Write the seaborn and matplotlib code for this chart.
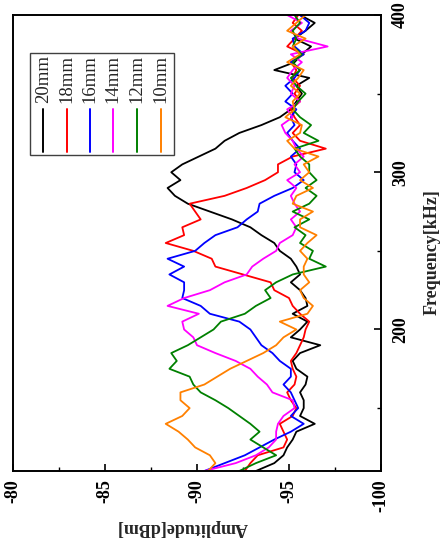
import numpy as np
import pandas as pd
import matplotlib
matplotlib.use("Agg")
import matplotlib.pyplot as plt
import seaborn as sns
from matplotlib.patches import Rectangle
from matplotlib.lines import Line2D
from matplotlib.ticker import MultipleLocator

# ---------------- data ----------------
freq_khz = list(range(110, 401, 5))

amp_20mm = [-93.2, -94.2, -94.7, -94.9, -95.2, -95.4, -96.4, -95.6, -95.8, -95.8,
            -95.6, -95.9, -96.0, -95.4, -95.2, -95.6, -96.7, -95.1, -95.6, -96.0,
            -95.2, -96.0, -95.9, -95.6, -95.1, -95.6, -95.4, -95.1, -94.5, -94.2,
            -93.5, -92.9, -91.9, -90.7, -89.5, -88.8, -88.4, -89.1, -88.6, -89.2,
            -90.1, -91.0, -91.5, -92.3, -93.5, -94.5, -95.1, -95.4, -95.7, -95.4,
            -96.1, -94.2, -95.3, -95.7, -96.2, -95.3, -95.9, -96.4, -95.6]

amp_18mm = [-92.6, -92.9, -93.3, -94.7, -94.9, -94.7, -94.5, -95.2, -95.4, -95.1,
            -94.9, -95.3, -95.4, -95.2, -95.1, -95.4, -95.6, -95.8, -95.9, -96.1,
            -95.6, -95.2, -95.0, -94.2, -94.0, -92.5, -91.0, -90.8, -89.8, -88.3,
            -89.3, -89.2, -90.2, -89.9, -89.6, -91.5, -92.7, -93.7, -94.4, -94.4,
            -95.2, -97.0, -95.6, -95.2, -95.6, -95.3, -95.1, -95.6, -95.3, -95.6,
            -95.2, -95.4, -95.1, -95.8, -94.9, -95.3, -95.7, -95.2, -95.5]

amp_16mm = [-90.4, -91.5, -92.6, -93.4, -94.2, -95.1, -95.8, -95.1, -95.5, -95.3,
            -95.1, -94.7, -95.1, -95.1, -94.5, -94.1, -93.5, -93.2, -92.9, -92.3,
            -90.7, -90.2, -89.2, -89.3, -89.3, -88.5, -89.3, -88.4, -89.9, -90.4,
            -91.0, -92.2, -92.7, -93.3, -93.4, -94.2, -95.2, -95.8, -95.3, -95.4,
            -95.1, -95.6, -95.2, -94.9, -95.3, -95.1, -95.4, -94.8, -95.2, -94.8,
            -95.3, -95.6, -95.1, -95.8, -95.3, -95.2, -95.9, -96.1, -95.6]

amp_14mm = [-90.4, -92.1, -93.2, -93.9, -94.3, -94.3, -94.4, -94.7, -95.3, -95.2,
            -94.1, -93.8, -93.3, -92.9, -92.1, -91.0, -90.0, -89.8, -89.3, -89.2,
            -90.1, -88.4, -89.3, -90.7, -91.5, -92.7, -93.0, -93.6, -94.3, -94.5,
            -95.2, -95.4, -95.1, -95.6, -95.3, -95.1, -95.4, -94.9, -95.6, -95.3,
            -95.8, -95.4, -95.2, -94.8, -94.6, -95.2, -94.9, -95.6, -95.1, -95.3,
            -94.9, -95.2, -95.7, -95.1, -97.1, -95.5, -95.1, -95.7, -94.9]

amp_12mm = [-92.3, -93.2, -94.3, -93.6, -92.9, -93.4, -92.9, -92.3, -91.7, -91.0,
            -90.2, -89.8, -89.6, -88.5, -88.9, -88.6, -89.5, -90.2, -90.9, -91.3,
            -92.6, -93.2, -94.0, -93.7, -94.3, -95.2, -97.0, -96.1, -96.3, -95.6,
            -95.9, -95.3, -96.1, -95.2, -96.1, -96.5, -95.9, -96.5, -96.1, -96.1,
            -95.6, -95.3, -96.6, -95.8, -96.2, -95.6, -95.2, -95.5, -95.9, -95.4,
            -95.1, -95.6, -95.2, -95.7, -95.2, -95.4, -95.2, -95.6, -95.3]

amp_10mm = [-90.6, -91.0, -90.7, -89.9, -89.5, -89.0, -88.3, -89.2, -89.6, -89.1,
            -89.1, -90.4, -91.1, -91.8, -92.7, -93.6, -94.3, -94.7, -95.4, -94.5,
            -96.0, -96.3, -95.8, -95.6, -96.1, -95.8, -95.8, -96.0, -95.6, -96.0,
            -96.5, -95.6, -95.6, -96.3, -95.2, -95.4, -96.3, -95.6, -96.1, -95.8,
            -96.6, -95.3, -94.9, -95.6, -95.7, -94.8, -95.3, -95.2, -95.6, -95.1,
            -95.5, -95.8, -94.9, -95.6, -95.2, -95.9, -94.9, -95.4, -95.9]

series_labels = ["20mm", "18mm", "16mm", "14mm", "12mm", "10mm"]
series_colors = ["#000000", "#ff0000", "#0000ff", "#ff00ff", "#008000", "#ff8000"]
series_values = [amp_20mm, amp_18mm, amp_16mm, amp_14mm, amp_12mm, amp_10mm]

amp_ticks = [-80, -85, -90, -95, -100]
freq_ticks = [200, 300, 400]

rows = []
for lab, vals in zip(series_labels, series_values):
    for f, a in zip(freq_khz, vals):
        rows.append({"freq": f, "amp": a, "gap": lab})
df = pd.DataFrame(rows)

# ---------------- style ----------------
sns.set_style("white")
plt.rcParams["font.family"] = ["Liberation Serif", "DejaVu Serif"]
plt.rcParams["axes.linewidth"] = 1.4

fig = plt.figure(figsize=(4.42, 5.44), dpi=100)
ax = fig.add_axes([0.02941, 0.1342, 0.8326, 0.8382])

sns.lineplot(data=df, x="amp", y="freq", hue="gap", hue_order=series_labels,
             palette=series_colors, orient="y", estimator=None, sort=True,
             linewidth=1.3, legend=False, ax=ax)

ax.set_xlim(-80, -100)
ax.set_ylim(110, 400)
ax.set_xticks(amp_ticks)
ax.set_xticklabels([str(t) for t in amp_ticks])
ax.xaxis.set_minor_locator(MultipleLocator(2.5))
ax.set_yticks(freq_ticks)
ax.set_yticklabels([str(t) for t in freq_ticks])
ax.yaxis.set_minor_locator(MultipleLocator(50))
ax.yaxis.tick_right()
ax.yaxis.set_label_position("right")

for sp in ax.spines.values():
    sp.set_color("black")
    sp.set_linewidth(1.4)

ax.tick_params(axis="x", which="both", direction="in", bottom=True, top=False,
               colors="black")
ax.tick_params(axis="y", which="both", direction="in", right=True, left=False,
               colors="black")
ax.tick_params(which="major", length=5, width=1.2)
ax.tick_params(which="minor", length=3, width=1.0)
ax.tick_params(axis="x", which="major", pad=6)
ax.tick_params(axis="y", which="major", pad=8)

for lbl in ax.get_xticklabels():
    lbl.set_rotation(90)
    lbl.set_fontsize(13)
    lbl.set_fontweight("bold")
    lbl.set_ha("center")
    lbl.set_va("top")
for lbl in ax.get_yticklabels():
    lbl.set_rotation(90)
    lbl.set_fontsize(13)
    lbl.set_fontweight("bold")
    lbl.set_va("center")
    lbl.set_ha("left")

ax.set_xlabel("Amplitude[dBm]", fontsize=13, fontweight="bold", rotation=180,
              ha="center", va="center")
ax.xaxis.set_label_coords(0.46, -0.125)
ax.set_ylabel("Frequency[kHz]", fontsize=13, fontweight="bold", rotation=90,
              ha="center", va="center")
ax.yaxis.set_label_coords(1.139, 0.48)

# ---------------- rotated legend ----------------
ax.add_patch(Rectangle((0.0462, 0.693), 0.3913, 0.2237, transform=ax.transAxes,
                       facecolor="white", edgecolor="#404040", linewidth=1.0,
                       zorder=5))
leg_x = [0.0823, 0.146, 0.2092, 0.2726, 0.3361, 0.4014]
for xx, lab, col in zip(leg_x, series_labels, series_colors):
    ax.add_line(Line2D([xx, xx], [0.699, 0.794], transform=ax.transAxes,
                       color=col, linewidth=1.4, zorder=6))
    ax.text(xx, 0.807, lab, transform=ax.transAxes, rotation=90,
            ha="center", va="bottom", fontsize=13.5, zorder=6)

fig.savefig("out.png", dpi=100)
